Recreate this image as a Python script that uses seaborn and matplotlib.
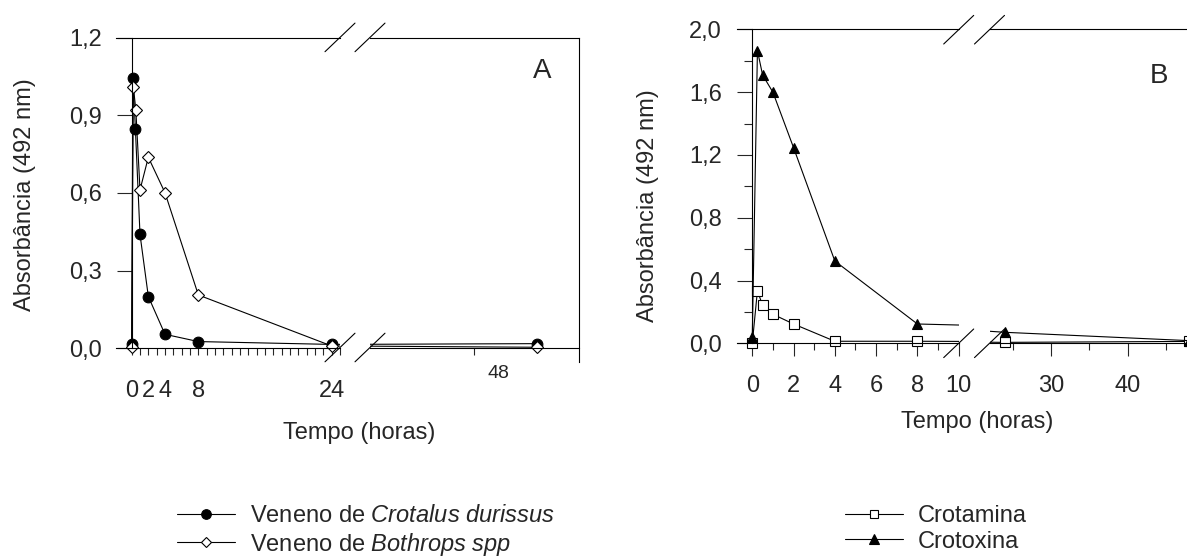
import matplotlib
matplotlib.use("Agg")
import matplotlib.pyplot as plt
from matplotlib.lines import Line2D
from matplotlib.ticker import FixedLocator, FixedFormatter, NullFormatter
import seaborn as sns

# ---------------- data ----------------
tempo_crotalus = [0, 0.15, 0.45, 1, 2, 4, 8, 24, 48]
abs_crotalus = [0.018, 1.044, 0.846, 0.440, 0.200, 0.054, 0.026, 0.015, 0.018]
tempo_bothrops = [0, 0.2, 0.5, 1, 2, 4, 8, 24, 48]
abs_bothrops = [0.004, 1.011, 0.921, 0.612, 0.738, 0.601, 0.206, 0.009, 0.004]

tempo_crotamina = [0, 0.25, 0.5, 1, 2, 4, 8, 24, 48]
abs_crotamina = [0.000, 0.335, 0.241, 0.185, 0.123, 0.013, 0.013, 0.006, 0.012]
tempo_crotoxina = [0, 0.25, 0.5, 1, 2, 4, 8, 24, 48]
abs_crotoxina = [0.038, 1.864, 1.709, 1.599, 1.246, 0.524, 0.123, 0.070, 0.017]

label_crotalus = r"Veneno de $\mathit{Crotalus}$ $\mathit{durissus}$"
label_bothrops = r"Veneno de $\mathit{Bothrops}$ $\mathit{spp}$"
label_crotamina = "Crotamina"
label_crotoxina = "Crotoxina"

yticks_A = [0.0, 0.3, 0.6, 0.9, 1.2]
yticklabels_A = ["0,0", "0,3", "0,6", "0,9", "1,2"]
xticks_A = [0, 2, 4, 8, 24]
xticklabels_A = ["0", "2", "4", "8", "24"]

yticks_B = [0.0, 0.4, 0.8, 1.2, 1.6, 2.0]
yticklabels_B = ["0,0", "0,4", "0,8", "1,2", "1,6", "2,0"]
yminor_B = [0.2, 0.6, 1.0, 1.4, 1.8]
xticks_B1 = [0, 2, 4, 6, 8, 10]
xminor_B1 = [1, 3, 5, 7, 9]
xticks_B2 = [30, 40]
xminor_B2 = [25, 35, 45]

# ---------------- style ----------------
sns.set_style("white")
plt.rcParams["font.family"] = ["Liberation Sans", "DejaVu Sans"]
plt.rcParams["mathtext.fontset"] = "custom"
plt.rcParams["mathtext.rm"] = "Liberation Sans"
plt.rcParams["mathtext.it"] = "Liberation Sans:italic"
plt.rcParams["axes.linewidth"] = 0.8
plt.rcParams["axes.edgecolor"] = "black"

W, H = 1187, 558
fig = plt.figure(figsize=(W / 100, H / 100), dpi=100)
FS = 17


def add_ax(x0, x1, ytop, ybot):
    return fig.add_axes([x0 / W, 1 - ybot / H, (x1 - x0) / W, (ybot - ytop) / H])


def slash(xc, yc, dx=15, dy=14.3):
    fig.add_artist(Line2D([(xc - dx) / W, (xc + dx) / W],
                          [1 - (yc + dy) / H, 1 - (yc - dy) / H],
                          transform=fig.transFigure, color="black", lw=0.8))


line_kw = dict(color="black", linewidth=0.8, markeredgewidth=0.8,
               markeredgecolor="black", legend=False)


def draw_A(ax):
    sns.lineplot(x=tempo_crotalus, y=abs_crotalus, ax=ax, marker="o",
                 markersize=7.7, markerfacecolor="black",
                 label=label_crotalus, **line_kw)
    sns.lineplot(x=tempo_bothrops, y=abs_bothrops, ax=ax, marker="D",
                 markersize=5.8, markerfacecolor="white",
                 label=label_bothrops, **line_kw)


def draw_B(ax):
    sns.lineplot(x=tempo_crotamina, y=abs_crotamina, ax=ax, marker="s",
                 markersize=6.7, markerfacecolor="white",
                 label=label_crotamina, **line_kw)
    sns.lineplot(x=tempo_crotoxina, y=abs_crotoxina, ax=ax, marker="^",
                 markersize=7.7, markerfacecolor="black",
                 label=label_crotoxina, **line_kw)


# ---------------- panel A ----------------
axA1 = add_ax(116, 340, 37.7, 362.3)
axA2 = add_ax(370, 579.3, 37.7, 362.3)
for ax in (axA1, axA2):
    draw_A(ax)
    ax.set_ylim(-0.0541, 1.2)
    ax.spines["bottom"].set_position(("data", 0))
    ax.set_xlabel("")
    ax.set_ylabel("")
axA1.set_xlim(-1.88, 25.0)
axA2.set_xlim(27.92, 53.04)

axA1.spines["right"].set_visible(False)
axA1.spines["left"].set_position(("data", 0))
axA1.spines["left"].set_bounds(0, 1.2)
axA1.yaxis.set_major_locator(FixedLocator(yticks_A))
axA1.yaxis.set_major_formatter(FixedFormatter(yticklabels_A))
axA1.xaxis.set_major_locator(FixedLocator(xticks_A))
axA1.xaxis.set_major_formatter(FixedFormatter(xticklabels_A))
axA1.xaxis.set_minor_locator(FixedLocator(list(range(0, 26))))
axA1.xaxis.set_minor_formatter(NullFormatter())
axA1.tick_params(axis="y", which="major", direction="out", length=10.8,
                 width=0.8, pad=10.3, labelsize=FS, left=True)
axA1.tick_params(axis="x", which="both", direction="out", length=5,
                 width=0.8, pad=17.7, labelsize=FS, bottom=True)

axA2.spines["left"].set_visible(False)
axA2.tick_params(axis="y", left=False, labelleft=False)
axA2.xaxis.set_major_locator(FixedLocator([40.4]))
axA2.xaxis.set_major_formatter(NullFormatter())
axA2.tick_params(axis="x", which="major", direction="out", length=5,
                 width=0.8, bottom=True)
axA2.text(43.32, -0.0339, "48", transform=axA2.get_xaxis_transform(),
          ha="center", va="center", fontsize=14)

axA1.set_ylabel("Absorbância (492 nm)", fontsize=FS)
axA1.yaxis.set_label_coords((25 - 116) / 224, (362.3 - 195) / 324.6)
axA1.yaxis.label.set_verticalalignment("center")
axA1.set_xlabel("Tempo (horas)", fontsize=FS)
axA1.xaxis.set_label_coords((359.3 - 116) / 224, (362.3 - 433.3) / 324.6)
axA1.xaxis.label.set_verticalalignment("center")

fig.text(541.7 / W, 1 - 78.3 / H, "A", fontsize=20, ha="center", va="baseline")

for xc in (340, 370):
    slash(xc, 37.4)
    slash(xc, 347.5)

# ---------------- panel B ----------------
axB1 = add_ax(737, 958.7, 29.3, 351.2)
axB2 = add_ax(990, 1242.7, 29.3, 351.2)
for ax in (axB1, axB2):
    draw_B(ax)
    ax.set_ylim(-0.0503, 2.0)
    ax.spines["bottom"].set_position(("data", 0))
    ax.set_xlabel("")
    ax.set_ylabel("")
axB1.set_xlim(-0.74, 10.0)
axB2.set_xlim(22.04, 55.0)

axB1.spines["right"].set_visible(False)
axB1.spines["left"].set_position(("data", 0))
axB1.spines["left"].set_bounds(0, 2.0)
axB1.yaxis.set_major_locator(FixedLocator(yticks_B))
axB1.yaxis.set_major_formatter(FixedFormatter(yticklabels_B))
axB1.yaxis.set_minor_locator(FixedLocator(yminor_B))
axB1.xaxis.set_major_locator(FixedLocator(xticks_B1))
axB1.xaxis.set_minor_locator(FixedLocator(xminor_B1))
axB1.tick_params(axis="y", which="major", direction="out", length=10.8,
                 width=0.8, pad=11.2, labelsize=FS, left=True)
axB1.tick_params(axis="y", which="minor", direction="out", length=5.5,
                 width=0.8, left=True)
axB1.tick_params(axis="x", which="major", direction="out", length=9.4,
                 width=0.8, pad=13.5, labelsize=FS, bottom=True)
axB1.tick_params(axis="x", which="minor", direction="out", length=5,
                 width=0.8, bottom=True)

axB2.spines["left"].set_visible(False)
axB2.spines["right"].set_visible(False)
axB2.tick_params(axis="y", left=False, labelleft=False)
axB2.xaxis.set_major_locator(FixedLocator(xticks_B2))
axB2.xaxis.set_minor_locator(FixedLocator(xminor_B2))
axB2.tick_params(axis="x", which="major", direction="out", length=9.4,
                 width=0.8, pad=13.5, labelsize=FS, bottom=True)
axB2.tick_params(axis="x", which="minor", direction="out", length=5,
                 width=0.8, bottom=True)

axB1.set_ylabel("Absorbância (492 nm)", fontsize=FS)
axB1.yaxis.set_label_coords((648.3 - 737) / 221.7, (351.2 - 205.8) / 321.9)
axB1.yaxis.label.set_verticalalignment("center")
axB1.set_xlabel("Tempo (horas)", fontsize=FS)
axB1.xaxis.set_label_coords((977.6 - 737) / 221.7, (351.2 - 421.7) / 321.9)
axB1.xaxis.label.set_verticalalignment("center")

fig.text(1159.3 / W, 1 - 82.7 / H, "B", fontsize=20, ha="center", va="baseline")

for xc in (958.7, 989.5):
    slash(xc, 29.7)
    slash(xc, 343.3)

# ---------------- legends ----------------
leg_kw = dict(loc="upper left", frameon=False, fontsize=FS, handlelength=2.45,
              handletextpad=0.64, labelspacing=0.15, borderpad=0,
              borderaxespad=0, markerscale=0.9)
hA, lA = axA1.get_legend_handles_labels()
fig.legend(hA, lA, bbox_to_anchor=(177.3 / W, 1 - 505 / H), **leg_kw)
hB, lB = axB1.get_legend_handles_labels()
fig.legend(hB, lB, bbox_to_anchor=(845 / W, 1 - 505 / H), **leg_kw)

fig.savefig("out.png", dpi=100)
